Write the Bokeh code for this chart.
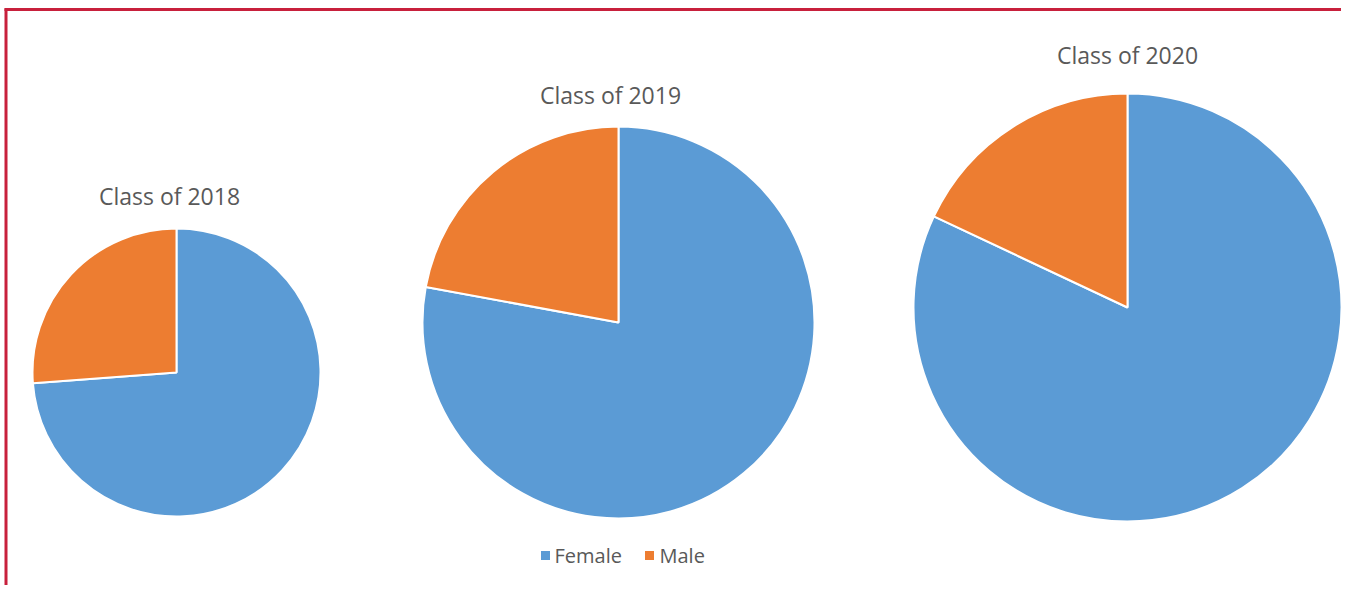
import math
from bokeh.plotting import figure
from bokeh.models import Range1d
from bokeh.core.properties import value
from bokeh.embed import file_html
from bokeh.resources import INLINE

# ---- data ----
classes = ["Class of 2018", "Class of 2019", "Class of 2020"]
female = [73.8, 77.9, 82.0]
male = [26.2, 22.1, 18.0]
series = ["Female", "Male"]

# ---- layout (screen pixel coordinates) ----
FW, FH = 1341, 585
centers_x = [176, 618, 1127]
centers_y = [372, 322, 307]
radii = [144, 196, 214]
title_pos = [(169, 195), (610, 94), (1127, 54)]
BLUE = "#5B9BD5"
ORANGE = "#ED7D31"
TEXT = "#595959"
RED = "#C8203C"
FONT = "Open Sans"

p = figure(width=FW, height=FH, output_backend="svg", toolbar_location=None,
           x_range=Range1d(0, FW), y_range=Range1d(0, FH),
           min_border=0, outline_line_color=None, background_fill_color="white",
           border_fill_color="white")
p.axis.visible = False
p.grid.visible = False

def sy(y):
    return FH - y

# border lines (top and left)
p.line([4, FW], [sy(9), sy(9)], line_color=RED, line_width=3)
p.line([5.5, 5.5], [sy(8), sy(FH)], line_color=RED, line_width=3)

start = math.pi / 2
for i in range(len(classes)):
    tot = female[i] + male[i]
    f_end = start - female[i] / tot * 2 * math.pi
    m_end = f_end - male[i] / tot * 2 * math.pi
    p.wedge(x=[centers_x[i]], y=[sy(centers_y[i])], radius=radii[i],
            start_angle=f_end, end_angle=start, direction="anticlock",
            fill_color=BLUE, line_color="white", line_width=2)
    p.wedge(x=[centers_x[i]], y=[sy(centers_y[i])], radius=radii[i],
            start_angle=m_end, end_angle=f_end, direction="anticlock",
            fill_color=ORANGE, line_color="white", line_width=2)
    tx, ty = title_pos[i]
    p.text(x=[tx], y=[sy(ty)], text=[classes[i]], text_align="center",
           text_baseline="middle", text_color=TEXT, text_font=value(FONT),
           text_font_size="23px")

# legend
leg_y = 555
p.rect(x=[545], y=[sy(leg_y)], width=9, height=9, width_units="screen",
       height_units="screen", fill_color=BLUE, line_color=None)
p.text(x=[554], y=[sy(leg_y)], text=[series[0]], text_align="left",
       text_baseline="middle", text_color=TEXT, text_font=value(FONT),
       text_font_size="20px")
p.rect(x=[649], y=[sy(leg_y)], width=9, height=9, width_units="screen",
       height_units="screen", fill_color=ORANGE, line_color=None)
p.text(x=[659], y=[sy(leg_y)], text=[series[1]], text_align="left",
       text_baseline="middle", text_color=TEXT, text_font=value(FONT),
       text_font_size="20px")

open("out.html", "w").write(file_html(p, INLINE))
